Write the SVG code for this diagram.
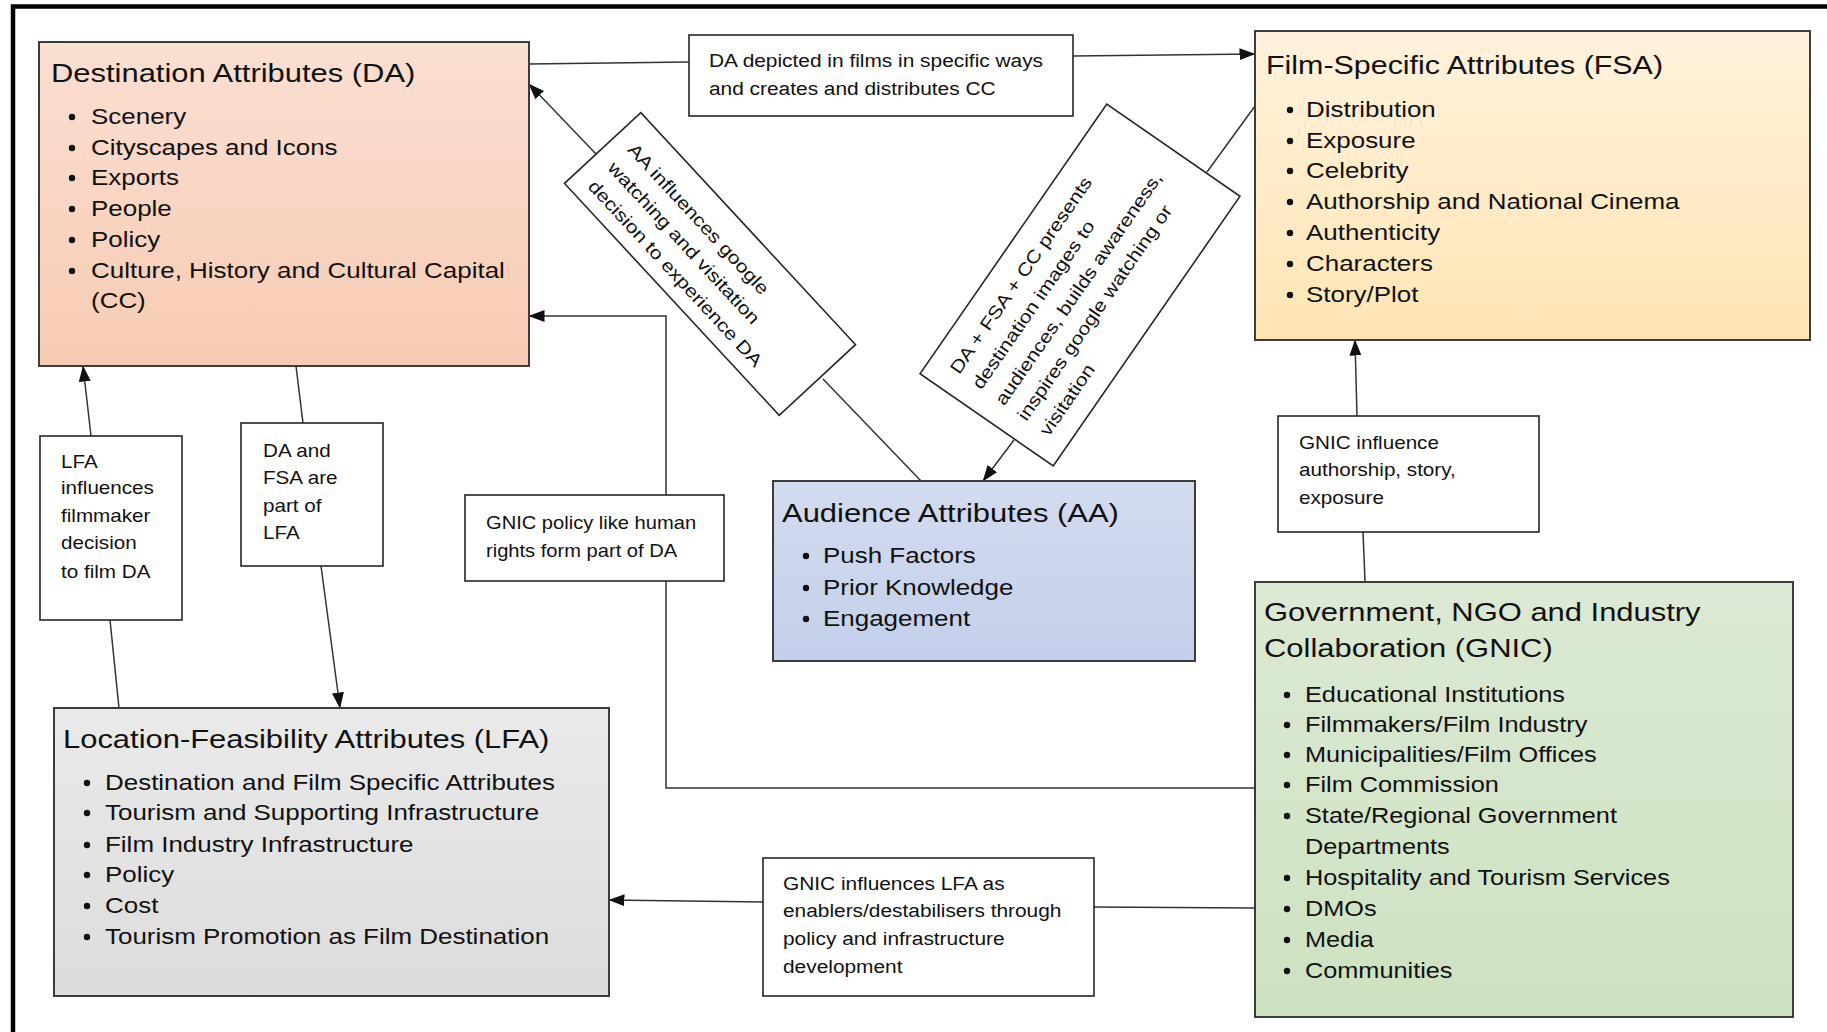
<svg xmlns="http://www.w3.org/2000/svg" width="1827" height="1032" viewBox="0 0 1827 1032">
<style>
.box{stroke:#3c3c3c;stroke-width:2}
.lbl{fill:#ffffff;stroke:#262626;stroke-width:1.6}
.t{font-family:"Liberation Sans",Arial,sans-serif;fill:#111111}
.h{font-size:26px}
.b{font-size:22px}
.s{font-size:18px}
.s2{font-size:17.5px}
.con{fill:none;stroke:#333333;stroke-width:1.5}
.dot{fill:#111111}
</style>
<defs>
<linearGradient id="gDA" x1="0" y1="0" x2="0" y2="1"><stop offset="0" stop-color="#fadfd2"/><stop offset="1" stop-color="#f7cbb3"/></linearGradient>
<linearGradient id="gFSA" x1="0" y1="0" x2="0" y2="1"><stop offset="0" stop-color="#fff2dc"/><stop offset="1" stop-color="#ffe5b4"/></linearGradient>
<linearGradient id="gAA" x1="0" y1="0" x2="0" y2="1"><stop offset="0" stop-color="#d3dbef"/><stop offset="1" stop-color="#c3cfea"/></linearGradient>
<linearGradient id="gGN" x1="0" y1="0" x2="0" y2="1"><stop offset="0" stop-color="#dce9d4"/><stop offset="1" stop-color="#cde2c1"/></linearGradient>
<linearGradient id="gLFA" x1="0" y1="0" x2="0" y2="1"><stop offset="0" stop-color="#eaeaea"/><stop offset="1" stop-color="#dcdcdc"/></linearGradient>
<marker id="arr" viewBox="0 0 16 12" refX="15.5" refY="6" markerWidth="16" markerHeight="12" markerUnits="userSpaceOnUse" orient="auto"><path d="M0,0 L16,6 L0,12 z" fill="#111"/></marker>
</defs>
<rect x="0" y="0" width="1827" height="1032" fill="#ffffff"/>
<path d="M13,1032 V6.5 H1827" fill="none" stroke="#000" stroke-width="4.5"/>

<g id="connectors">
<path class="con" d="M529,64 L689,62"/>
<path class="con" d="M1073,56 L1255,54" marker-end="url(#arr)"/>
<path class="con" d="M596,154 L529,84" marker-end="url(#arr)"/>
<path class="con" d="M921,481 L823,379"/>
<path class="con" d="M1255,106 L1207,172"/>
<path class="con" d="M1014,440 L983,481" marker-end="url(#arr)"/>
<path class="con" d="M1255,788 H666 V316 H529" marker-end="url(#arr)"/>
<path class="con" d="M1365,581 L1363,532"/>
<path class="con" d="M1357,416 L1355,340" marker-end="url(#arr)"/>
<path class="con" d="M1255,908 L1094,907"/>
<path class="con" d="M763,902 L609,900" marker-end="url(#arr)"/>
<path class="con" d="M119,708 L110,620"/>
<path class="con" d="M91,436 L83,366" marker-end="url(#arr)"/>
<path class="con" d="M296,366 L303,423"/>
<path class="con" d="M321,566 L340,708" marker-end="url(#arr)"/>
</g>

<g id="node-DA">
<rect class="box" x="39" y="42" width="490" height="324" fill="url(#gDA)"/>
<g transform="translate(51,0) scale(1.19,1)"><text class="t h" x="0" y="82">Destination Attributes (DA)</text></g>
<g transform="translate(91,0) scale(1.18,1)" class="t b">
<text x="0" y="124">Scenery</text>
<text x="0" y="155">Cityscapes and Icons</text>
<text x="0" y="185">Exports</text>
<text x="0" y="216">People</text>
<text x="0" y="247">Policy</text>
<text x="0" y="278">Culture, History and Cultural Capital</text>
<text x="0" y="308">(CC)</text>
</g>
<g class="dot"><circle cx="72" cy="117" r="3.2"/><circle cx="72" cy="148" r="3.2"/><circle cx="72" cy="178" r="3.2"/><circle cx="72" cy="209" r="3.2"/><circle cx="72" cy="240" r="3.2"/><circle cx="72" cy="271" r="3.2"/></g>
</g>

<g id="node-FSA">
<rect class="box" x="1255" y="31" width="555" height="309" fill="url(#gFSA)"/>
<g transform="translate(1266,0) scale(1.17,1)"><text class="t h" x="0" y="74">Film-Specific Attributes (FSA)</text></g>
<g transform="translate(1306,0) scale(1.18,1)" class="t b">
<text x="0" y="117">Distribution</text>
<text x="0" y="148">Exposure</text>
<text x="0" y="178">Celebrity</text>
<text x="0" y="209">Authorship and National Cinema</text>
<text x="0" y="240">Authenticity</text>
<text x="0" y="271">Characters</text>
<text x="0" y="302">Story/Plot</text>
</g>
<g class="dot"><circle cx="1290" cy="110" r="3.2"/><circle cx="1290" cy="141" r="3.2"/><circle cx="1290" cy="171" r="3.2"/><circle cx="1290" cy="202" r="3.2"/><circle cx="1290" cy="233" r="3.2"/><circle cx="1290" cy="264" r="3.2"/><circle cx="1290" cy="295" r="3.2"/></g>
</g>

<g id="node-AA">
<rect class="box" x="773" y="481" width="422" height="180" fill="url(#gAA)"/>
<g transform="translate(782,0) scale(1.19,1)"><text class="t h" x="0" y="522">Audience Attributes (AA)</text></g>
<g transform="translate(823,0) scale(1.18,1)" class="t b">
<text x="0" y="563">Push Factors</text>
<text x="0" y="595">Prior Knowledge</text>
<text x="0" y="626">Engagement</text>
</g>
<g class="dot"><circle cx="806" cy="556" r="3.2"/><circle cx="806" cy="588" r="3.2"/><circle cx="806" cy="619" r="3.2"/></g>
</g>

<g id="node-GNIC">
<rect class="box" x="1255" y="582" width="538" height="435" fill="url(#gGN)"/>
<g transform="translate(1264,0) scale(1.19,1)" class="t h">
<text x="0" y="621">Government, NGO and Industry</text>
<text x="0" y="657">Collaboration (GNIC)</text>
</g>
<g transform="translate(1305,0) scale(1.15,1)" class="t b">
<text x="0" y="702">Educational Institutions</text>
<text x="0" y="732">Filmmakers/Film Industry</text>
<text x="0" y="762">Municipalities/Film Offices</text>
<text x="0" y="792">Film Commission</text>
<text x="0" y="823">State/Regional Government</text>
<text x="0" y="854">Departments</text>
<text x="0" y="885">Hospitality and Tourism Services</text>
<text x="0" y="916">DMOs</text>
<text x="0" y="947">Media</text>
<text x="0" y="978">Communities</text>
</g>
<g class="dot"><circle cx="1287" cy="695" r="3.2"/><circle cx="1287" cy="725" r="3.2"/><circle cx="1287" cy="755" r="3.2"/><circle cx="1287" cy="785" r="3.2"/><circle cx="1287" cy="816" r="3.2"/><circle cx="1287" cy="878" r="3.2"/><circle cx="1287" cy="909" r="3.2"/><circle cx="1287" cy="940" r="3.2"/><circle cx="1287" cy="971" r="3.2"/></g>
</g>

<g id="node-LFA">
<rect class="box" x="54" y="708" width="555" height="288" fill="url(#gLFA)"/>
<g transform="translate(63,0) scale(1.19,1)"><text class="t h" x="0" y="748">Location-Feasibility Attributes (LFA)</text></g>
<g transform="translate(105,0) scale(1.18,1)" class="t b">
<text x="0" y="790">Destination and Film Specific Attributes</text>
<text x="0" y="820">Tourism and Supporting Infrastructure</text>
<text x="0" y="852">Film Industry Infrastructure</text>
<text x="0" y="882">Policy</text>
<text x="0" y="913">Cost</text>
<text x="0" y="944">Tourism Promotion as Film Destination</text>
</g>
<g class="dot"><circle cx="87" cy="783" r="3.2"/><circle cx="87" cy="813" r="3.2"/><circle cx="87" cy="845" r="3.2"/><circle cx="87" cy="875" r="3.2"/><circle cx="87" cy="906" r="3.2"/><circle cx="87" cy="937" r="3.2"/></g>
</g>

<g id="label-DA-FSA">
<rect class="lbl" x="689" y="35" width="384" height="81"/>
<g transform="translate(709,0) scale(1.16,1)" class="t s">
<text x="0" y="67">DA depicted in films in specific ways</text>
<text x="0" y="95">and creates and distributes CC</text>
</g>
</g>

<g id="label-AA-DA" transform="translate(710,264) rotate(47.2)">
<rect class="lbl" x="-158" y="-52" width="316" height="104"/>
<g transform="scale(1.18,1)" class="t s">
<text x="-118.6" y="-16">AA influences google</text>
<text x="-118.6" y="11">watching and visitation</text>
<text x="-118.6" y="38">decision to experience DA</text>
</g>
</g>

<g id="label-FSA-AA" transform="translate(1080,285) rotate(-55.3)">
<rect class="lbl" x="-164" y="-81" width="328" height="162"/>
<g transform="scale(1.18,1)" class="t s">
<text x="-121.2" y="-48">DA + FSA + CC presents</text>
<text x="-121.2" y="-21">destination images to</text>
<text x="-121.2" y="7">audiences, builds awareness,</text>
<text x="-121.2" y="34">inspires google watching or</text>
<text x="-121.2" y="61">visitation</text>
</g>
</g>

<g id="label-GNIC-DA">
<rect class="lbl" x="465" y="495" width="259" height="86"/>
<g transform="translate(486,0) scale(1.15,1)" class="t s2">
<text x="0" y="529">GNIC policy like human</text>
<text x="0" y="557">rights form part of DA</text>
</g>
</g>

<g id="label-LFA-DA">
<rect class="lbl" x="40" y="436" width="142" height="184"/>
<g transform="translate(61,0) scale(1.18,1)" class="t s2">
<text x="0" y="468">LFA</text>
<text x="0" y="494">influences</text>
<text x="0" y="522">filmmaker</text>
<text x="0" y="549">decision</text>
<text x="0" y="578">to film DA</text>
</g>
</g>

<g id="label-DA-LFA">
<rect class="lbl" x="241" y="423" width="142" height="143"/>
<g transform="translate(263,0) scale(1.18,1)" class="t s2">
<text x="0" y="457">DA and</text>
<text x="0" y="484">FSA are</text>
<text x="0" y="512">part of</text>
<text x="0" y="539">LFA</text>
</g>
</g>

<g id="label-GNIC-FSA">
<rect class="lbl" x="1278" y="416" width="261" height="116"/>
<g transform="translate(1299,0) scale(1.18,1)" class="t s2">
<text x="0" y="449">GNIC influence</text>
<text x="0" y="476">authorship, story,</text>
<text x="0" y="504">exposure</text>
</g>
</g>

<g id="label-GNIC-LFA">
<rect class="lbl" x="763" y="858" width="331" height="138"/>
<g transform="translate(783,0) scale(1.16,1)" class="t s">
<text x="0" y="890">GNIC influences LFA as</text>
<text x="0" y="917">enablers/destabilisers through</text>
<text x="0" y="945">policy and infrastructure</text>
<text x="0" y="973">development</text>
</g>
</g>
</svg>
